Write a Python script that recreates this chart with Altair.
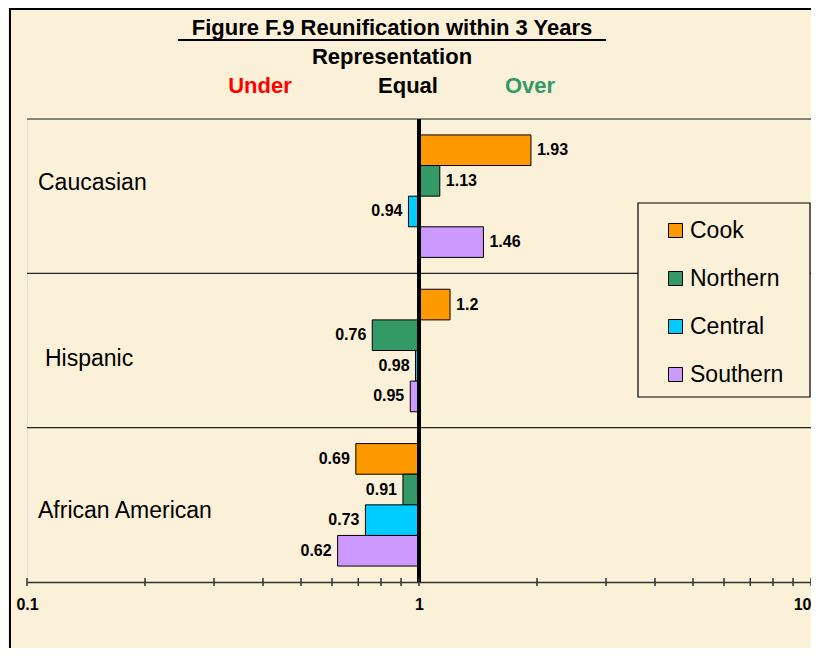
import altair as alt
import pandas as pd

groups = ["Caucasian", "Hispanic", "African American"]
series = ["Cook", "Northern", "Central", "Southern"]
colors = ["#FF9900", "#339966", "#00CCFF", "#CC99FF"]
caucasian = [1.93, 1.13, 0.94, 1.46]
hispanic = [1.2, 0.76, 0.98, 0.95]
african_american = [0.69, 0.91, 0.73, 0.62]
tick_values = [0.1, 0.2, 0.3, 0.4, 0.5, 0.6, 0.7, 0.8, 0.9, 1, 2, 3, 4, 5, 6, 7, 8, 9, 10]
axis_labels = [0.1, 1, 10]

rows = []
for g, vals in zip(groups, [caucasian, hispanic, african_american]):
    for s, v in zip(series, vals):
        rows.append({"group": g, "series": s, "value": v, "label": str(v)})
df = pd.DataFrame(rows)

W, H = 784, 463
FONT = "Liberation Sans"
BG = "#FBF0D8"

yscale = alt.Scale(domain=groups, paddingInner=0, paddingOuter=0)
xscale = alt.Scale(type="log", domain=[0.1, 10])
offscale = alt.Scale(paddingInner=0, paddingOuter=0.52)

grp_df = pd.DataFrame({"group": groups})

one = alt.Data(values=[{}])

frame = alt.Chart(one).mark_rect(fillOpacity=0, stroke="black", strokeWidth=2).encode(
    x=alt.value(-17), x2=alt.value(W + 60), y=alt.value(-110), y2=alt.value(H + 120)
)

separators = alt.Chart(grp_df).mark_rule(color="#222222", strokeWidth=1.2).encode(
    y=alt.Y("group:N", scale=yscale, bandPosition=0, axis=None)
)

bars = alt.Chart(df).mark_bar(stroke="black", strokeWidth=1).encode(
    x=alt.X("value:Q", scale=xscale,
            axis=alt.Axis(values=axis_labels, ticks=False, grid=False, title=None,
                          domainColor="#333333", domainWidth=1.5, zindex=1,
                          labelFontSize=16, labelFontWeight="bold", labelColor="black",
                          labelPadding=14, labelFont=FONT, labelFlush=False,
                          labelAlign=alt.expr("datum.value >= 10 ? 'right' : 'center'"))),
    x2=alt.datum(1),
    y=alt.Y("group:N", scale=yscale, axis=None),
    yOffset=alt.YOffset("series:N", sort=series, scale=offscale),
    color=alt.Color("series:N", sort=series,
                    scale=alt.Scale(domain=series, range=colors),
                    legend=alt.Legend(orient="none", legendX=637, legendY=100,
                                      title=None, symbolType="square", symbolSize=196,
                                      symbolStrokeColor="black", symbolStrokeWidth=1,
                                      labelFontSize=23, labelFont=FONT, labelColor="black",
                                      rowPadding=24, labelOffset=3, padding=0,
                                      labelLimit=300)),
)

center_line = alt.Chart(grp_df).mark_rule(color="black", strokeWidth=4).encode(
    x=alt.datum(1), y=alt.value(0), y2=alt.value(H)
)

def value_labels(cond, align, dx):
    return alt.Chart(df).transform_filter(cond).mark_text(
        align=align, dx=dx, fontSize=16, fontWeight="bold", font=FONT, color="black"
    ).encode(
        x=alt.X("value:Q", scale=xscale),
        y=alt.Y("group:N", scale=yscale, axis=None),
        yOffset=alt.YOffset("series:N", sort=series, scale=offscale),
        text="label:N",
    )

labels_right = value_labels("datum.value >= 1", "left", 6)
labels_left = value_labels("datum.value < 1", "right", -6)

def cat_label(name, x, dy):
    return alt.Chart(grp_df).transform_filter(alt.datum.group == name).mark_text(
        align="left", fontSize=23, font=FONT, color="black", dy=dy
    ).encode(
        x=alt.value(x),
        y=alt.Y("group:N", scale=yscale, axis=None),
        text="group:N",
    )

cat_labels = [cat_label(groups[0], 11, -13), cat_label(groups[1], 18, 8), cat_label(groups[2], 11, 6)]

legend_box = alt.Chart(one).mark_rect(fill=BG, stroke="black", strokeWidth=1.2).encode(
    x=alt.value(611), x2=alt.value(783), y=alt.value(84), y2=alt.value(278)
)

ticks = alt.Chart(pd.DataFrame({"t": tick_values})).mark_rule(color="#333333", strokeWidth=1.5).encode(
    x=alt.X("t:Q", scale=xscale), y=alt.value(H - 4), y2=alt.value(H + 4)
)

def header(text, x, y, color="black"):
    return alt.Chart(one).mark_text(
        text=text, fontSize=22, fontWeight="bold", font=FONT, color=color,
        align="center", baseline="middle"
    ).encode(x=alt.value(x), y=alt.value(y))

title_line = alt.Chart(one).mark_rule(color="black", strokeWidth=2).encode(
    x=alt.value(151), x2=alt.value(579), y=alt.value(-79)
)

chart = alt.layer(
    frame, separators, bars, center_line, labels_right, labels_left, *cat_labels,
    legend_box, ticks,
    header("Figure F.9 Reunification within 3 Years", 365, -91), title_line,
    header("Representation", 365, -62),
    header("Under", 233, -33, "#FF0000"),
    header("Equal", 381, -33),
    header("Over", 503, -33, "#339966"),
).properties(
    width=W, height=H,
    autosize=alt.AutoSizeParams(type="none"),
    padding={"left": 19, "top": 111, "right": 0, "bottom": 66},
    background=BG,
).configure_view(stroke=None).configure(font=FONT)

chart.save("out.html", embed_options={"renderer": "svg", "actions": False})
